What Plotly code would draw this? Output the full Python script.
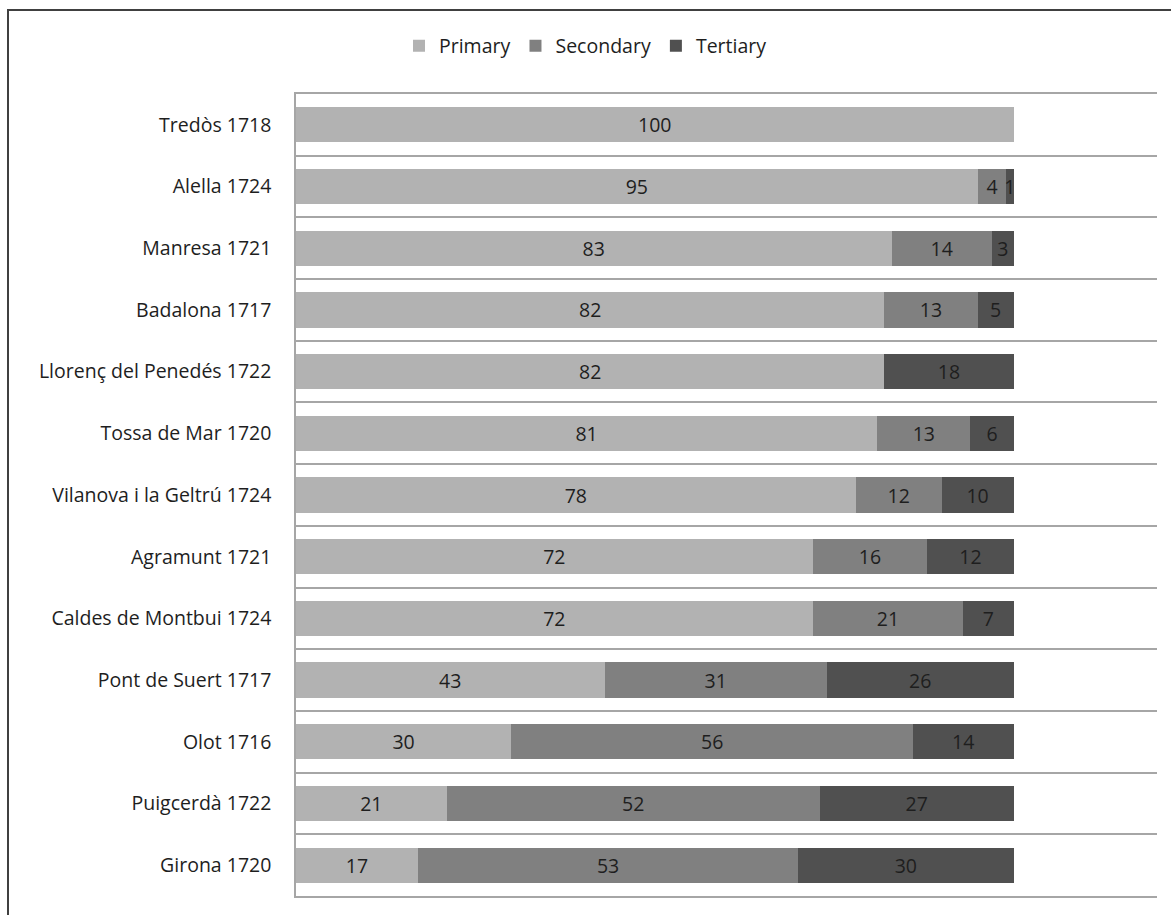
import plotly.graph_objects as go

categories = [
    "Tredòs 1718", "Alella 1724", "Manresa 1721", "Badalona 1717",
    "Llorenç del Penedés 1722", "Tossa de Mar 1720", "Vilanova i la Geltrú 1724",
    "Agramunt 1721", "Caldes de Montbui 1724", "Pont de Suert 1717",
    "Olot 1716", "Puigcerdà 1722", "Girona 1720",
]
primary = [100, 95, 83, 82, 82, 81, 78, 72, 72, 43, 30, 21, 17]
secondary = [0, 4, 14, 13, 0, 13, 12, 16, 21, 31, 56, 52, 53]
tertiary = [0, 1, 3, 5, 18, 6, 10, 12, 7, 26, 14, 27, 30]

series_names = ["Primary", "Secondary", "Tertiary"]
series_values = [primary, secondary, tertiary]
series_colors = ["#b2b2b2", "#808080", "#505050"]

W, H = 1171, 915
ML, MR, MT, MB = 296, 14, 94, 19
FONT = "Open Sans"
FS = 19.5
TXT = "#1e1e1e"

fig = go.Figure()
for name, vals, col in zip(series_names, series_values, series_colors):
    fig.add_trace(go.Bar(
        y=categories, x=vals, name=name, orientation="h",
        marker=dict(color=col, line=dict(width=0)),
        text=[str(v) if v else "" for v in vals],
        textposition="inside", insidetextanchor="middle",
        constraintext="none", cliponaxis=False,
        textfont=dict(family=FONT, size=FS, color=TXT),
        hoverinfo="x+y+name",
    ))

pw = W - ML - MR
ph = H - MT - MB
def px_x(p):
    return (p - ML) / pw
def px_y(p):
    return (H - MB - p) / ph

fig.update_layout(
    width=W, height=H,
    barmode="stack", bargap=0.43,
    paper_bgcolor="white", plot_bgcolor="white",
    margin=dict(l=ML, r=MR, t=MT, b=MB, pad=0),
    font=dict(family=FONT, size=FS, color=TXT),
    legend=dict(orientation="h", xref="container", yref="container",
                x=0.5, xanchor="center", y=1 - 46 / H, yanchor="middle",
                font=dict(family=FONT, size=FS, color=TXT),
                traceorder="normal"),
    xaxis=dict(range=[0, 120], showgrid=False, showticklabels=False,
               zeroline=False, showline=True, mirror=True,
               linecolor="#a6a6a6", linewidth=1.5, ticks=""),
    yaxis=dict(categoryorder="array", categoryarray=categories,
               autorange="reversed", tickson="boundaries",
               showgrid=True, gridcolor="#a6a6a6", gridwidth=1.5,
               showline=True, linecolor="#a6a6a6", linewidth=1.5,
               ticks="", ticklabelstandoff=19,
               tickfont=dict(family=FONT, size=FS, color=TXT)),
    shapes=[dict(type="rect", xref="paper", yref="paper",
                 x0=px_x(8), x1=px_x(W + 10), y0=px_y(H + 10), y1=px_y(10),
                 line=dict(color="#404040", width=2), fillcolor="rgba(0,0,0,0)",
                 layer="above")],
)

fig.write_html("out.html")
